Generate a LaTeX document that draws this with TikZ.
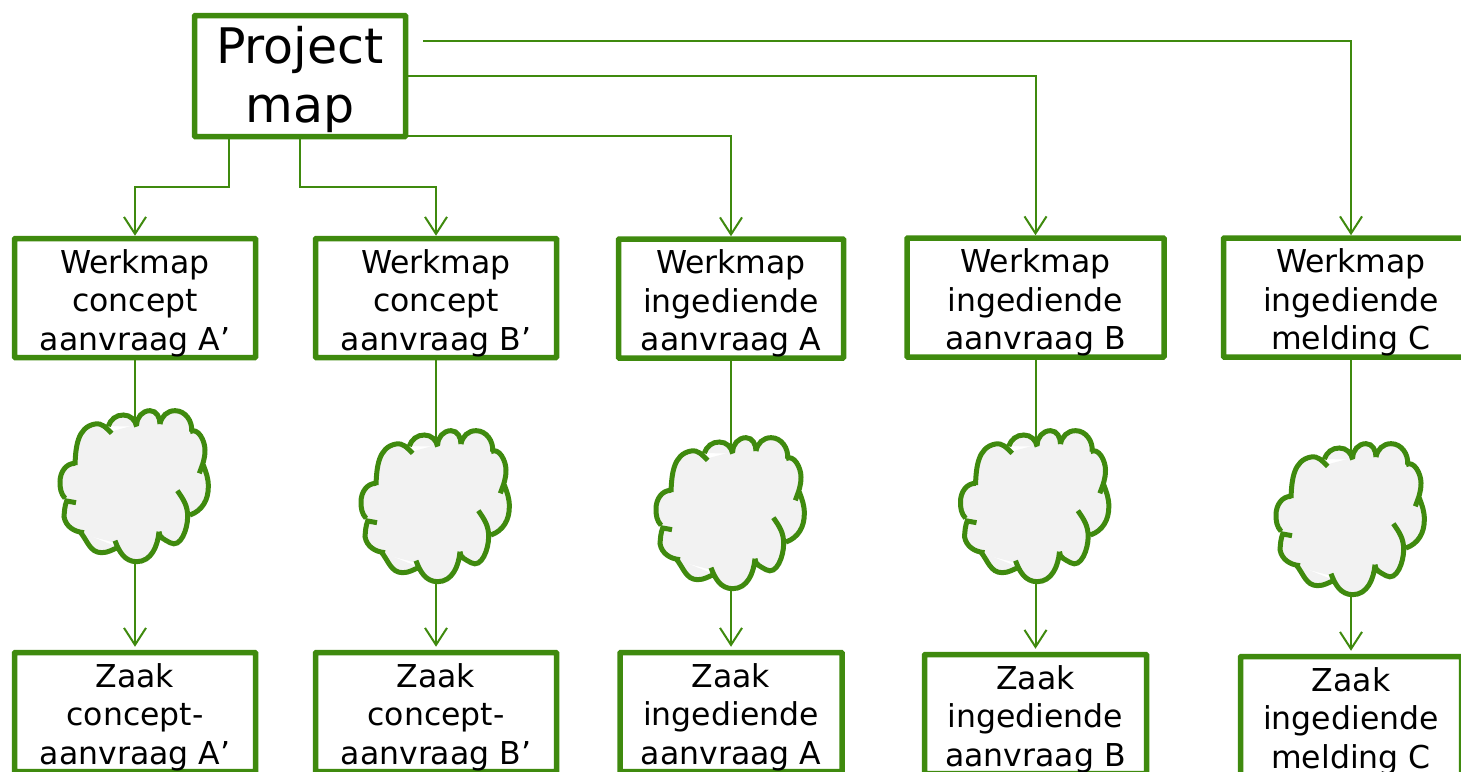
\documentclass[tikz,border=0pt]{standalone}
\usepackage{fontspec}
\setmainfont{DejaVu Sans}
\usetikzlibrary{
	arrows.meta,
	positioning,
}
\definecolor{mapgreen}{HTML}{3F8A0E}
\definecolor{cloudgrey}{HTML}{F2F2F2}
\tikzset{
	map node/.style={
		draw=mapgreen,
		line width=5.5pt,
		rounded corners=0.8pt,
		fill=white,
		align=center,
		inner sep=0pt,
		font=\fontsize{31.5}{38.5}\selectfont,
		text height=111pt,
	},
	link/.style={
		draw=mapgreen,
		line width=2pt,
		-{Straight Barb[length=17pt,width=22pt]},
	},
	plain link/.style={
		draw=mapgreen,
		line width=2pt,
	},
	cloud pic/.pic={
		\begin{scope}[scale=1/3]
		\fill[cloudgrey,draw=cloudgrey,line width=4pt] (-180,-60)--(-70,-155)--(5,-175)--(75,-183)--(170,-160)--(193,-35)
			--(165,90)--(105,173)--(72,140)--(-60,167)--(-165,140)--(-177,53)--(-205,45)--cycle;
		\filldraw[draw=mapgreen,fill=cloudgrey,line width=5pt]
			(-180,-60) to[out=88,in=190] (-120,-183) to[out=10,in=135] (-70,-155)
			(-80,-177) to[out=70,in=180] (-35,-210) to[out=0,in=100] (5,-175)
			(5,-180) to[out=90,in=180] (45,-223) to[out=0,in=90] (75,-183)
			(75,-183) to[out=80,in=180] (120,-223) to[out=0,in=85] (170,-160)
			(165,-160) to[out=30,in=90] (210,-105) to[out=-90,in=70] (193,-35)
			(205,-60) to[out=-70,in=90] (220,5) to[out=-90,in=20] (165,90)
			(127,17) to[out=-55,in=90] (158,95) to[out=-90,in=-30] (105,173) to[out=150,in=-90] (72,140)
			(72,140) to[out=-95,in=0] (5,230) to[out=180,in=-70] (-60,167)
			(-50,187) to[out=-160,in=0] (-100,203) to[out=180,in=-50] (-165,140)
			(-153,143) to[out=175,in=-80] (-213,95) to[out=85,in=-110] (-205,48) -- (-177,53)
			(-210,40) to[out=130,in=-90] (-225,-10) to[out=90,in=180] (-180,-65);
		\end{scope}
	},
}

\begin{document}
\begin{tikzpicture}[x=1pt,y=-1pt]
\useasboundingbox (0,0) rectangle (1461,771);
\clip (0,0) rectangle (1461,771);

\node(project)[map node,minimum width=211pt,minimum height=121pt,
	font=\fontsize{49}{59}\selectfont,text height=104pt] at (300,76) {Project\\map};

% werkmappen
\foreach[count=\i] \x/\bw/\y/\txt in {%
	135/241/298/Werkmap\\concept\\aanvraag A’%
	,436/241/298/Werkmap\\concept\\aanvraag B’%
	,731/225/298.5/Werkmap\\ingediende\\aanvraag A%
	,1035.5/257/297.5/Werkmap\\ingediende\\aanvraag B%
	,1351/255/297.5/Werkmap\\ingediende\\melding C%
}{
	\node(w\i)[map node,minimum width=\bw pt,minimum height=119pt] at (\x,\y) {\txt};
}

% zaken
\foreach[count=\i] \x/\bw/\y/\txt in {%
	135/241/712/Zaak\\concept-\\aanvraag A’%
	,436/241/712/Zaak\\concept-\\aanvraag B’%
	,731/222/712/Zaak\\ingediende\\aanvraag A%
	,1035.5/222/714/Zaak\\ingediende\\aanvraag B%
	,1351/221/716/Zaak\\ingediende\\melding C%
}{
	\node(z\i)[map node,minimum width=\bw pt,minimum height=119pt] at (\x,\y) {\txt};
}

\foreach[count=\i] \x/\y in {
	135/485,436/505,731/512,1035.5/505,1351/518%
}{
	\coordinate(c\i) at(\x,\y);
}

\coordinate(far) at(423,41);

\draw[link] ([xshift=-71pt]project.south) -- ++(0,48) -| (w1);
\draw[link] (project.south) -- ++(0,48) -| (w2);
\draw[link] ([yshift=-60pt]project.east) -| (w3);
\draw[link] (project.east) -| (w4);
\draw[link] (far) -| (w5);

\foreach \i in {1,...,5}{
	\draw[plain link] (w\i) -- (c\i);
	\draw[link,shorten >=3pt] (c\i) -- (z\i);
	\pic at (c\i) {cloud pic};
}
\end{tikzpicture}
\end{document}
